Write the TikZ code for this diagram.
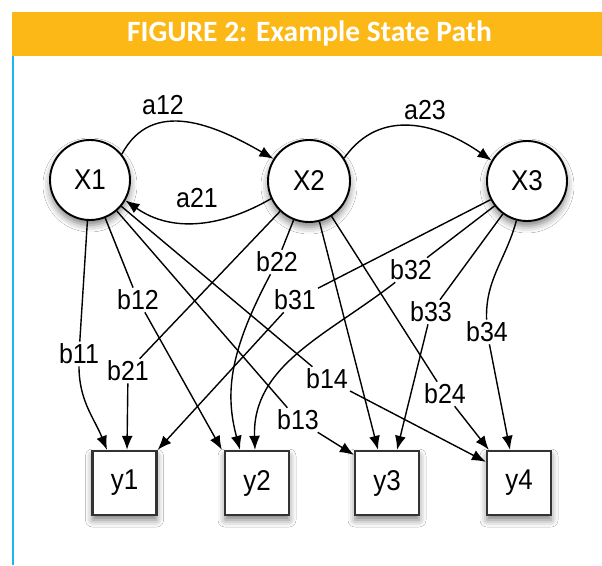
\documentclass[tikz,border=0pt]{standalone}
\usepackage{fontspec}
\usepackage{graphicx}
\setmainfont{Liberation Sans}
\newfontfamily\titlefont{Carlito}
\usetikzlibrary{arrows.meta,shadows.blur}
\definecolor{barorange}{HTML}{FBB817}
\definecolor{sideblue}{HTML}{1DB5EA}
\definecolor{boxgray}{HTML}{333333}
\newcommand\tall[1]{\scalebox{1}[1.1]{#1}}
\begin{document}
\begin{tikzpicture}[x=1pt,y=1pt,
  font=\fontsize{25}{28}\selectfont,
  softshadow/.style={blur shadow={shadow xshift=0pt, shadow yshift=-5pt, shadow blur radius=7pt, shadow opacity=50}},
  state/.style={circle, draw=black, line width=1.9pt, fill=white, minimum size=80pt, inner sep=0pt, softshadow, font=\fontsize{26}{28}\selectfont},
  obs/.style={rectangle, draw=boxgray, line width=2.3pt, fill=white, minimum size=64pt, inner sep=0pt, softshadow, font=\fontsize{26}{28}\selectfont},
  lab/.style={inner sep=2pt},
  edge/.style={line width=1.4pt, draw=black},
  arr/.style={edge, -{Latex[length=14pt,width=11pt]}},
]
\useasboundingbox (0,0) rectangle (602,565);
\fill[white] (0,0) rectangle (602,565);
\fill[barorange] (11.5,508.5) rectangle (602,552.5);
\node[text=white, anchor=base, inner sep=0pt, font=\titlefont\bfseries\fontsize{29.5}{30}\selectfont] (title) at (309.5,523) {FIGURE 2: Example State Path};
\coordinate (blueTop) at (12.7,508.5);
\coordinate (blueBot) at (12.7,0);
\draw[sideblue, line width=2pt] (blueTop) -- (blueBot);

% states
\node[state] (X1) at (90,385) {\tall{X1}};
\node[state, minimum size=82pt] (X2) at (309,384) {\tall{X2}};
\node[state] (X3) at (527,384) {\tall{X3}};
% observations
\node[obs] (y1) at (124.5,82) {\tall{y1}};
\node[obs] (y2) at (257,82) {\tall{y2}};
\node[obs] (y3) at (387,82) {\tall{y3}};
\node[obs] (y4) at (519,82) {\tall{y4}};

% transition labels
\node[lab] (la12) at (163,460) {\tall{a12}};
\node[lab] (la21) at (197,367) {\tall{a21}};
\node[lab] (la23) at (425,455) {\tall{a23}};
% emission labels
\node[lab] (b11) at (79,211) {\tall{b11}};
\node[lab] (b12) at (138,265) {\tall{b12}};
\node[lab] (b13) at (298,145) {\tall{b13}};
\node[lab] (b14) at (327,186) {\tall{b14}};
\node[lab] (b21) at (128,194) {\tall{b21}};
\node[lab] (b22) at (277,303) {\tall{b22}};
\node[lab] (b24) at (445,171) {\tall{b24}};
\node[lab] (b31) at (295,265) {\tall{b31}};
\node[lab] (b32) at (411,295) {\tall{b32}};
\node[lab] (b33) at (431,253) {\tall{b33}};
\node[lab] (b34) at (487,233) {\tall{b34}};

% transitions
\draw[arr] (X1.39) to[out=62,in=150,looseness=1.1] (X2.148);
\draw[arr] (X2.205) to[out=210,in=-35] (X1.-30);
\draw[arr] (X2.33) to[out=55,in=145,looseness=1.1] (X3.150);

% emissions
\draw[edge] (X1) -- (b11);
\draw[arr] (b11) to[out=-90,in=112] ([xshift=-17.5pt]y1.north);
\draw[edge] (X2) -- (b21);
\draw[arr] (b21) -- ([xshift=2.5pt]y1.north);
\draw[edge] (X3) -- (b31);
\draw[arr] (b31) -- (y1.north east);

\draw[edge] (X1) -- (b12);
\draw[arr] (b12) -- ([xshift=-2pt]y2.north west);
\draw[edge] (X2) -- (b22);
\draw[arr] (b22) .. controls +(-118:100) and +(105:60) .. ([xshift=-17pt]y2.north);
\draw[edge] (X3) -- (b32);
\draw[arr] (b32) to[out=-142,in=92] ([xshift=-2pt]y2.north);

\draw[edge] (X1) -- (b13);
\draw[arr] (b13) -- ([yshift=-5pt]y3.north west);
\draw[arr] (X2) -- ([xshift=-9pt]y3.north);
\draw[edge] (X3) -- (b33);
\draw[arr] (b33) -- ([xshift=10pt]y3.north);

\draw[edge] (X1) -- (b14);
\draw[arr] (b14) -- ([yshift=-12pt]y4.north west);
\draw[edge] (X2) -- (b24);
\draw[arr] (b24) -- ([xshift=3pt]y4.north west);
\draw[edge] (X3) to[out=-105,in=92] (b34);
\draw[arr] (b34) -- ([xshift=-9pt]y4.north);
\end{tikzpicture}
\end{document}
